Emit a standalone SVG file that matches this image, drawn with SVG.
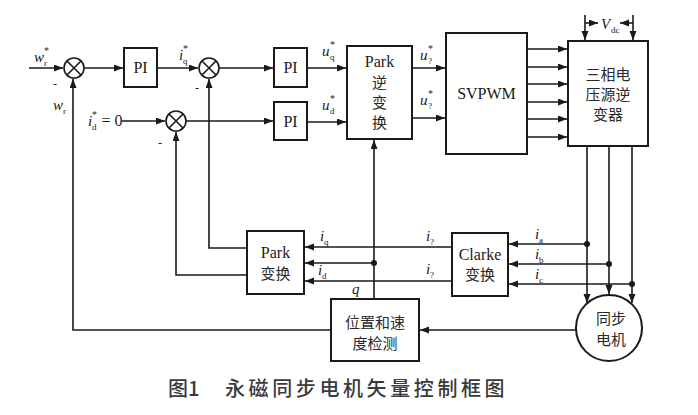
<svg xmlns="http://www.w3.org/2000/svg" width="698" height="415" viewBox="0 0 698 415">
<style>
.box{fill:#fff;stroke:#1a1a1a;stroke-width:2}
.ln{fill:none;stroke:#1a1a1a;stroke-width:1.6}
.sum{fill:#fff;stroke:#1a1a1a;stroke-width:1.6}
.t{font-family:"Liberation Serif","Noto Sans CJK SC",serif;font-size:16px;fill:#1a1a1a;text-anchor:middle}
.c{font-family:"Noto Sans CJK SC",sans-serif;font-size:15px;fill:#2a2a2a;text-anchor:middle}
.it{font-family:"Liberation Serif",serif;font-style:italic;font-size:15px;fill:#1a1a1a}
.sub{font-family:"Liberation Serif",serif;font-size:9px;fill:#1a1a1a}
.sup{font-family:"Liberation Serif",serif;font-size:10px;fill:#1a1a1a}
.m{font-family:"Liberation Serif",serif;font-size:12px;fill:#1a1a1a}
.cap{font-family:"Noto Sans CJK SC",sans-serif;font-size:20px;font-weight:500;fill:#3a3a3a}
</style>
<defs>
<marker id="a" markerUnits="userSpaceOnUse" markerWidth="10" markerHeight="8" refX="9" refY="3.5" orient="auto">
<path d="M0,0 L9,3.5 L0,7 z" fill="#1a1a1a"/>
</marker>
</defs>

<g id="connectors">
<path class="ln" d="M29,68 H63" marker-end="url(#a)"/>
<path class="ln" d="M84,68 H123" marker-end="url(#a)"/>
<path class="ln" d="M157,68 H198" marker-end="url(#a)"/>
<path class="ln" d="M219,68 H273" marker-end="url(#a)"/>
<path class="ln" d="M307,68 H346" marker-end="url(#a)"/>
<path class="ln" d="M122,121 H165" marker-end="url(#a)"/>
<path class="ln" d="M186,121 H273" marker-end="url(#a)"/>
<path class="ln" d="M307,122 H346" marker-end="url(#a)"/>
<path class="ln" d="M412,68 H445" marker-end="url(#a)"/>
<path class="ln" d="M412,118 H445" marker-end="url(#a)"/>
<path class="ln" d="M527,49 H567" marker-end="url(#a)"/>
<path class="ln" d="M527,67 H567" marker-end="url(#a)"/>
<path class="ln" d="M527,84 H567" marker-end="url(#a)"/>
<path class="ln" d="M527,102 H567" marker-end="url(#a)"/>
<path class="ln" d="M527,119 H567" marker-end="url(#a)"/>
<path class="ln" d="M527,137 H567" marker-end="url(#a)"/>
<path class="ln" d="M585,15 V40" marker-end="url(#a)"/>
<path class="ln" d="M633,15 V40" marker-end="url(#a)"/>
<path class="ln" d="M585,23 H598" marker-end="url(#a)"/>
<path class="ln" d="M633,23 H620" marker-end="url(#a)"/>
<path class="ln" d="M587,146 V303" marker-end="url(#a)"/>
<path class="ln" d="M609,146 V294" marker-end="url(#a)"/>
<path class="ln" d="M632,146 V303" marker-end="url(#a)"/>
<path class="ln" d="M587,244 H509" marker-end="url(#a)"/>
<path class="ln" d="M609,264 H509" marker-end="url(#a)"/>
<path class="ln" d="M632,284 H509" marker-end="url(#a)"/>
<path class="ln" d="M452,247 H305" marker-end="url(#a)"/>
<path class="ln" d="M452,281 H305" marker-end="url(#a)"/>
<path class="ln" d="M374,263 H305" marker-end="url(#a)"/>
<path class="ln" d="M374,299 V140" marker-end="url(#a)"/>
<path class="ln" d="M247,248 H209 V79" marker-end="url(#a)"/>
<path class="ln" d="M247,275 H176 V132" marker-end="url(#a)"/>
<path class="ln" d="M576,330 H420" marker-end="url(#a)"/>
<path class="ln" d="M331,330 H73 V79" marker-end="url(#a)"/>
<circle cx="374" cy="263" r="3" fill="#1a1a1a"/>
<circle cx="587" cy="244" r="3" fill="#1a1a1a"/>
<circle cx="609" cy="264" r="3" fill="#1a1a1a"/>
<circle cx="632" cy="284" r="3" fill="#1a1a1a"/>
</g>

<g id="sum1"><circle class="sum" cx="74" cy="68" r="10"/><path class="ln" d="M67,61 L81,75 M81,61 L67,75"/></g>
<g id="sum2"><circle class="sum" cx="209" cy="68" r="10"/><path class="ln" d="M202,61 L216,75 M216,61 L202,75"/></g>
<g id="sum3"><circle class="sum" cx="176" cy="121" r="10"/><path class="ln" d="M169,114 L183,128 M183,114 L169,128"/></g>

<g id="pi1"><rect class="box" x="124" y="48" width="33" height="39"/><text class="t" x="140.5" y="73">PI</text></g>
<g id="pi2"><rect class="box" x="274" y="48" width="33" height="39"/><text class="t" x="290.5" y="73">PI</text></g>
<g id="pi3"><rect class="box" x="274" y="102" width="33" height="38"/><text class="t" x="290.5" y="127">PI</text></g>

<g id="park-inv"><rect class="box" x="347" y="46" width="65" height="93"/>
<text class="t" x="379.5" y="67">Park</text>
<text class="c" x="379.5" y="88">逆</text>
<text class="c" x="379.5" y="108">变</text>
<text class="c" x="379.5" y="128">换</text></g>

<g id="svpwm"><rect class="box" x="446" y="33" width="81" height="121"/><text class="t" x="486.5" y="99">SVPWM</text></g>

<g id="inverter"><rect class="box" x="568" y="41" width="80" height="105"/>
<text class="c" x="608" y="80">三相电</text>
<text class="c" x="608" y="100">压源逆</text>
<text class="c" x="608" y="120">变器</text></g>

<g id="park"><rect class="box" x="247" y="231" width="57" height="63"/>
<text class="t" x="275.5" y="258">Park</text>
<text class="c" x="275.5" y="279">变换</text></g>

<g id="clarke"><rect class="box" x="452" y="233" width="56" height="63"/>
<text class="t" x="480" y="260">Clarke</text>
<text class="c" x="480" y="280">变换</text></g>

<g id="detect"><rect class="box" x="331" y="299" width="88" height="62"/>
<text class="c" x="375" y="328">位置和速</text>
<text class="c" x="375" y="349">度检测</text></g>

<g id="motor"><circle class="box" cx="609" cy="328" r="33"/>
<text class="c" x="611" y="324">同步</text>
<text class="c" x="611" y="345">电机</text></g>

<g id="labels">
<text class="it" x="34" y="62">w</text><text class="sub" x="44" y="66">r</text><text class="sup" x="44" y="54">*</text>
<text class="it" x="53" y="110">w</text><text class="sub" x="63" y="114">r</text>
<text class="m" x="53" y="88">-</text>
<text class="m" x="195" y="92">-</text>
<text class="m" x="158" y="147">-</text>
<text class="it" x="179" y="60">i</text><text class="sub" x="183" y="64">q</text><text class="sup" x="183" y="52">*</text>
<text class="it" x="88" y="126">i</text><text class="sub" x="92" y="130">d</text><text class="sup" x="92" y="118">*</text>
<text class="t" x="112" y="126">= 0</text>
<text class="it" x="322" y="56">u</text><text class="sub" x="330" y="60">q</text><text class="sup" x="330" y="48">*</text>
<text class="it" x="322" y="110">u</text><text class="sub" x="330" y="114">d</text><text class="sup" x="330" y="102">*</text>
<text class="it" x="420" y="60">u</text><text class="sub" x="428" y="64">?</text><text class="sup" x="428" y="52">*</text>
<text class="it" x="420" y="105">u</text><text class="sub" x="428" y="109">?</text><text class="sup" x="428" y="97">*</text>
<text class="it" x="601" y="29">V</text><text class="sub" x="611" y="33">dc</text>
<text class="it" x="320" y="241">i</text><text class="sub" x="324" y="245">q</text>
<text class="it" x="318" y="275">i</text><text class="sub" x="322" y="279">d</text>
<text class="it" x="426" y="241">i</text><text class="sub" x="430" y="245">?</text>
<text class="it" x="426" y="274">i</text><text class="sub" x="430" y="278">?</text>
<text class="it" x="535" y="239">i</text><text class="sub" x="539" y="243">a</text>
<text class="it" x="535" y="259">i</text><text class="sub" x="539" y="263">b</text>
<text class="it" x="535" y="279">i</text><text class="sub" x="539" y="283">c</text>
<text class="it" x="352" y="294">q</text>
</g>

<text class="cap" x="168" y="396">图1</text>
<text class="cap" x="225" y="396" letter-spacing="3.6">永磁同步电机矢量控制框图</text>
</svg>
